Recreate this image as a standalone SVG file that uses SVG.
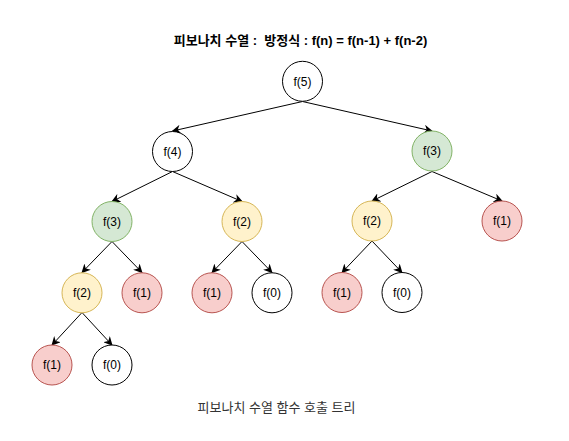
<svg xmlns="http://www.w3.org/2000/svg" width="569" height="441" viewBox="0 0 569 441">
<style>
.n circle{stroke-width:1}
.w{fill:#ffffff;stroke:#000000}
.g{fill:#d5e8d4;stroke:#82b366}
.y{fill:#fff2cc;stroke:#d6b656}
.r{fill:#f8cecc;stroke:#b85450}
.n text{font-family:"Liberation Sans",Arial,sans-serif;font-size:12px;fill:#000;text-anchor:middle}
.e line{stroke:#000;stroke-width:1;fill:none;marker-end:url(#arr)}
.t{font-family:"Liberation Sans","Noto Sans CJK KR",sans-serif;font-size:13px;text-anchor:middle;white-space:pre}
</style>
<defs>
<marker id="arr" viewBox="0 0 10 10" refX="9" refY="5" markerWidth="9" markerHeight="9" markerUnits="userSpaceOnUse" orient="auto">
<path d="M0,0 L10,5 L0,10 L3,5 z" fill="#000"/>
</marker>
</defs>
<rect width="569" height="441" fill="#ffffff"/>
<text class="t" x="300.5" y="45" font-weight="bold" xml:space="preserve">피보나치 수열 :  방정식 : f(n) = f(n-1) + f(n-2)</text>
<text class="t" x="276.5" y="412" fill="#333333">피보나치 수열 함수 호출 트리</text>
<g id="edges" class="e">
<line x1="302.5" y1="101.5" x2="172.5" y2="131"/>
<line x1="302.5" y1="101.5" x2="432" y2="131"/>
<line x1="172.5" y1="171.5" x2="112" y2="201.5"/>
<line x1="172.5" y1="171.5" x2="242" y2="201.5"/>
<line x1="432" y1="171.5" x2="372" y2="201"/>
<line x1="432" y1="171.5" x2="502" y2="201"/>
<line x1="112" y1="241.5" x2="82" y2="272.5"/>
<line x1="112" y1="241.5" x2="142" y2="272.5"/>
<line x1="242" y1="241.5" x2="212" y2="272.5"/>
<line x1="242" y1="241.5" x2="272" y2="272.5"/>
<line x1="372" y1="241" x2="342" y2="272.5"/>
<line x1="372" y1="241" x2="402" y2="272.5"/>
<line x1="82" y1="312.5" x2="52" y2="345"/>
<line x1="82" y1="312.5" x2="112" y2="345"/>
</g>
<g id="f5" class="n"><circle class="w" cx="302.5" cy="81.3" r="20"/><text x="302.5" y="85.5">f(5)</text></g>
<g id="f4" class="n"><circle class="w" cx="172.5" cy="151.5" r="20"/><text x="172.5" y="155.7">f(4)</text></g>
<g id="f3r" class="n"><circle class="g" cx="432" cy="151" r="20"/><text x="432" y="155.2">f(3)</text></g>
<g id="f3l" class="n"><circle class="g" cx="112" cy="221.5" r="20"/><text x="112" y="225.7">f(3)</text></g>
<g id="f2m" class="n"><circle class="y" cx="242" cy="221.5" r="20"/><text x="242" y="225.7">f(2)</text></g>
<g id="f2r" class="n"><circle class="y" cx="372" cy="221" r="20"/><text x="372" y="225.2">f(2)</text></g>
<g id="f1r" class="n"><circle class="r" cx="502" cy="221" r="20"/><text x="502" y="225.2">f(1)</text></g>
<g id="f2l" class="n"><circle class="y" cx="82" cy="292.8" r="20"/><text x="82" y="297">f(2)</text></g>
<g id="f1a" class="n"><circle class="r" cx="142" cy="292.8" r="20"/><text x="142" y="297">f(1)</text></g>
<g id="f1b" class="n"><circle class="r" cx="212" cy="292.8" r="20"/><text x="212" y="297">f(1)</text></g>
<g id="f0a" class="n"><circle class="w" cx="272" cy="292.8" r="20"/><text x="272" y="297">f(0)</text></g>
<g id="f1c" class="n"><circle class="r" cx="342" cy="292.5" r="20"/><text x="342" y="296.7">f(1)</text></g>
<g id="f0b" class="n"><circle class="w" cx="402" cy="292.5" r="20"/><text x="402" y="296.7">f(0)</text></g>
<g id="f1d" class="n"><circle class="r" cx="52" cy="365" r="20"/><text x="52" y="369.2">f(1)</text></g>
<g id="f0c" class="n"><circle class="w" cx="112" cy="365" r="20"/><text x="112" y="369.2">f(0)</text></g>
</svg>
